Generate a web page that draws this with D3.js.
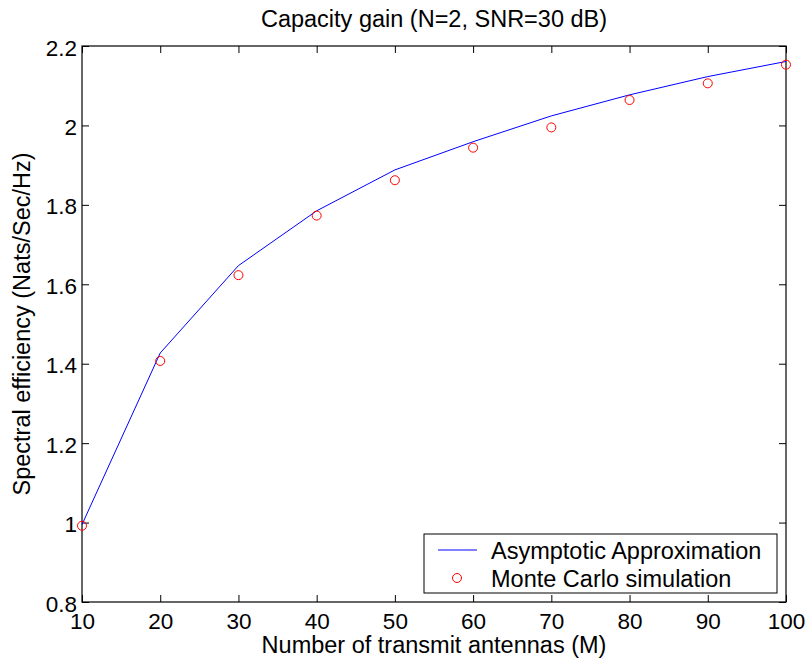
<!DOCTYPE html>
<html lang="en">
<head>
<meta charset="UTF-8">
<title>Capacity gain</title>
<script src="https://d3js.org/d3.v7.min.js"></script>
<style>
    body { margin: 0; background: #fff; }
    svg { display: block; font-family: 'Liberation Sans', Arial, Helvetica, sans-serif; }
    .tick text { font-size: 22.5px; fill: #000; }
    .tick line { stroke: #000; }
</style>
</head>
<body>
<svg width="809" height="658"></svg>
<script>
    // data
    const antennas = [10, 20, 30, 40, 50, 60, 70, 80, 90, 100];
    const asymptotic = [0.995, 1.427, 1.647, 1.785, 1.888, 1.959, 2.024, 2.077, 2.123, 2.161];
    const monteCarlo = [0.992, 1.407, 1.623, 1.773, 1.862, 1.944, 1.995, 2.064, 2.106, 2.153];
    const xTicks = [10, 20, 30, 40, 50, 60, 70, 80, 90, 100];
    const yTicks = [0.8, 1, 1.2, 1.4, 1.6, 1.8, 2, 2.2];
    const seriesNames = ["Asymptotic Approximation", "Monte Carlo simulation"];

    const svg = d3.select("svg");
    const plotL = 82, plotR = 786, plotT = 46, plotB = 602;

    const x = d3.scaleLinear().domain([10, 100]).range([plotL, plotR]);
    const y = d3.scaleLinear().domain([0.8, 2.2]).range([plotB, plotT]);

    // axes with inward ticks on all four sides
    const xb = svg.append("g").attr("transform", `translate(0,${plotB})`)
        .call(d3.axisBottom(x).tickValues(xTicks).tickSize(-7).tickPadding(11).tickFormat(d3.format("d")));
    const xt = svg.append("g").attr("transform", `translate(0,${plotT})`)
        .call(d3.axisTop(x).tickValues(xTicks).tickSize(-7).tickFormat(""));
    const yl = svg.append("g").attr("transform", `translate(${plotL},0)`)
        .call(d3.axisLeft(y).tickValues(yTicks).tickSize(-7).tickPadding(5).tickFormat(d3.format("")));
    const yr = svg.append("g").attr("transform", `translate(${plotR},0)`)
        .call(d3.axisRight(y).tickValues(yTicks).tickSize(-7).tickFormat(""));
    [xb, xt, yl, yr].forEach(g => g.select(".domain").remove());
    yl.selectAll(".tick text").attr("dy", "0.4em");

    svg.append("rect")
        .attr("x", plotL).attr("y", plotT)
        .attr("width", plotR - plotL).attr("height", plotB - plotT)
        .attr("fill", "none").attr("stroke", "#000").attr("stroke-width", 1.2);

    // series
    const line = d3.line().x((d, i) => x(antennas[i])).y(d => y(d));
    svg.append("path")
        .datum(asymptotic)
        .attr("d", line)
        .attr("fill", "none")
        .attr("stroke", "#0000ff")
        .attr("stroke-width", 1);

    svg.selectAll(".mc")
        .data(monteCarlo)
        .join("circle")
        .attr("class", "mc")
        .attr("cx", (d, i) => x(antennas[i]))
        .attr("cy", d => y(d))
        .attr("r", 4.5)
        .attr("fill", "none")
        .attr("stroke", "#ff0000")
        .attr("stroke-width", 1);

    // titles
    svg.append("text")
        .attr("x", (plotL + plotR) / 2).attr("y", 26.5)
        .attr("text-anchor", "middle").attr("font-size", 23.5)
        .text("Capacity gain (N=2, SNR=30 dB)");
    svg.append("text")
        .attr("x", (plotL + plotR) / 2).attr("y", 653)
        .attr("text-anchor", "middle").attr("font-size", 23.5)
        .text("Number of transmit antennas (M)");
    svg.append("text")
        .attr("transform", `translate(30,${(plotT + plotB) / 2}) rotate(-90)`)
        .attr("text-anchor", "middle").attr("font-size", 23.5)
        .text("Spectral efficiency (Nats/Sec/Hz)");

    // legend
    const legend = svg.append("g");
    legend.append("rect")
        .attr("x", 424).attr("y", 534).attr("width", 353).attr("height", 59)
        .attr("fill", "#fff").attr("stroke", "#000").attr("stroke-width", 1);
    legend.append("line")
        .attr("x1", 438).attr("x2", 477).attr("y1", 550).attr("y2", 550)
        .attr("stroke", "#0000ff").attr("stroke-width", 1);
    legend.append("circle")
        .attr("cx", 457).attr("cy", 578).attr("r", 4.5)
        .attr("fill", "none").attr("stroke", "#ff0000").attr("stroke-width", 1);
    legend.selectAll(".lt")
        .data(seriesNames)
        .join("text")
        .attr("class", "lt")
        .attr("x", 491).attr("y", (d, i) => 559 + i * 27.5)
        .attr("font-size", 23.5)
        .text(d => d);
</script>
</body>
</html>
